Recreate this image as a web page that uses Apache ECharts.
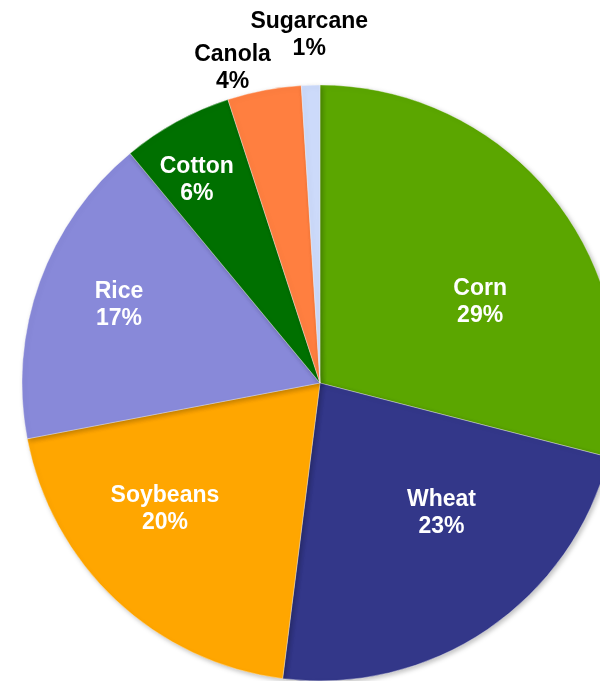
<!DOCTYPE html>
<html>
<head>
<meta charset="utf-8">
<script src="https://cdn.jsdelivr.net/npm/echarts@6/dist/echarts.min.js"></script>
<style>
html,body{margin:0;padding:0;background:#fff;}
#chart{width:600px;height:681px;}
</style>
</head>
<body>
<div id="chart"></div>
<script>
const categories = ['Corn', 'Wheat', 'Soybeans', 'Rice', 'Cotton', 'Canola', 'Sugarcane'];
const values = [29, 23, 20, 17, 6, 4, 1];
const colors = ['#5BA600', '#333789', '#FFA600', '#8889D9', '#007000', '#FF7F40', '#CCDAFA'];
const labelColors = ['#fff', '#fff', '#fff', '#fff', '#fff', '#000', '#000'];
// label nudges from the default inside position
const labelShift = [[40, 12], [36, 4], [-51, 15], [-58, -26], [-50, -70], [-59, -166], [-6, -196]];

const chart = echarts.init(document.getElementById('chart'), null, {renderer: 'canvas'});
const data = categories.map((c, i) => ({
  name: c,
  value: values[i],
  itemStyle: {color: colors[i]},
  label: {color: labelColors[i]}
}));
chart.setOption({
  animation: false,
  series: [{
    type: 'pie',
    center: [320, 383],
    radius: 298,
    startAngle: 90,
    clockwise: true,
    avoidLabelOverlap: false,
    minShowLabelAngle: 0,
    data: data,
    itemStyle: {
      borderColor: 'rgba(255,255,255,0.6)',
      borderWidth: 0.6,
      shadowBlur: 5,
      shadowColor: 'rgba(0,0,0,0.25)',
      shadowOffsetX: 2,
      shadowOffsetY: 2
    },
    label: {
      show: true,
      position: 'inside',
      formatter: p => p.name + '\n' + p.value + '%',
      fontFamily: 'Liberation Sans, Arial, sans-serif',
      fontWeight: 'bold',
      fontSize: 23,
      lineHeight: 27,
      align: 'center'
    },
    labelLine: {show: false},
    labelLayout: function (params) {
      const s = labelShift[params.dataIndex];
      return {dx: s[0], dy: s[1]};
    },
    emphasis: {disabled: true}
  }]
});
</script>
</body>
</html>
